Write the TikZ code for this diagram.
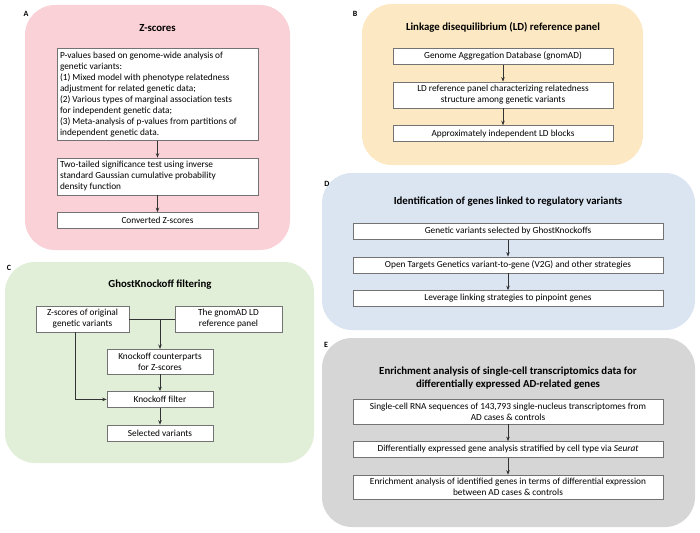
\documentclass[tikz,border=0pt]{standalone}
\usepackage{fontspec}
\setmainfont{Carlito}
\usetikzlibrary{positioning,arrows.meta}
\definecolor{zpink}{RGB}{249,209,214}
\definecolor{ldorange}{RGB}{252,232,194}
\definecolor{gkgreen}{RGB}{225,238,216}
\definecolor{genblue}{RGB}{219,229,242}
\definecolor{scgray}{RGB}{214,214,214}
\begin{document}
\begin{tikzpicture}[x=1pt,y=-1pt,
  node distance=17pt,
  every node/.style = {font=\fontsize{9.3}{11}\selectfont},
  stepbox/.style = {draw=black!55, fill=white, line width=0.6pt,
    inner xsep=3pt, inner ysep=3.5pt, minimum height=16pt, align=center},
  paneltitle/.style = {font=\bfseries\fontsize{10.8}{13}\selectfont, align=center},
  panellabel/.style = {font=\bfseries\fontsize{8}{10}\selectfont},
  panel/.style = {rounded corners=30pt},
  flow/.style = {-{Stealth[length=4.5pt,width=3.5pt]}, draw=black!80, line width=0.7pt}
  ]
  \useasboundingbox (0,0) rectangle (700,532);

  % panel backgrounds
  \fill[panel, zpink] (25,5) rectangle (290,250);
  \fill[panel, ldorange] (362,4) rectangle (643,165);
  \fill[panel, gkgreen] (5,262) rectangle (314,463);
  \fill[panel, genblue] (322,173) rectangle (695,330);
  \fill[panel, scgray] (322,338) rectangle (695,527);

  \node[panellabel] (labA) at (26,14) {A};
  \node[panellabel] (labB) at (355,14) {B};
  \node[panellabel] (labC) at (9,268) {C};
  \node[panellabel] (labD) at (327,184) {D};
  \node[panellabel] (labE) at (326,345) {E};

  % A: Z-scores
  \node[paneltitle] (titA) at (157.5,28) {Z-scores};
  \node[stepbox, text width=195pt, align=flush left, anchor=north] (zpval) at (157.5,48)
    {P-values based on genome-wide analysis of\\genetic variants:\\
     (1) Mixed model with phenotype relatedness\\adjustment for related genetic data;\\
     (2) Various types of marginal association tests\\for independent genetic data;\\
     (3) Meta-analysis of p-values from partitions of\\independent genetic data.};
  \node[stepbox, text width=195pt, align=flush left, below=of zpval] (ztest)
    {Two-tailed significance test using inverse\\standard Gaussian cumulative probability\\density function};
  \node[stepbox, minimum width=201pt, below=of ztest] (zconv) {Converted Z-scores};
  \draw[flow] (zpval) -- (ztest);
  \draw[flow] (ztest) -- (zconv);

  % B: LD reference panel
  \node[paneltitle] (titB) at (503,27) {Linkage disequilibrium (LD) reference panel};
  \node[stepbox, minimum width=220pt, anchor=north] (gnomad) at (503,48)
    {Genome Aggregation Database (gnomAD)};
  \node[stepbox, minimum width=220pt, below=of gnomad] (ldpanel)
    {LD reference panel characterizing relatedness\\structure among genetic variants};
  \node[stepbox, minimum width=220pt, below=of ldpanel] (ldblock)
    {Approximately independent LD blocks};
  \draw[flow] (gnomad) -- (ldpanel);
  \draw[flow] (ldpanel) -- (ldblock);

  % C: GhostKnockoff filtering
  \node[paneltitle] (titC) at (160,285) {GhostKnockoff filtering};
  \node[stepbox, minimum width=93pt] (zorig) at (82.5,319)
    {Z-scores of original\\genetic variants};
  \node[stepbox, minimum width=107pt] (gnomadld) at (228.5,319)
    {The gnomAD LD\\reference panel};
  \node[stepbox, minimum width=106pt, anchor=north] (kcount) at (160,349)
    {Knockoff counterparts\\for Z-scores};
  \node[stepbox, minimum width=106pt, below=of kcount] (kfilter) {Knockoff filter};
  \node[stepbox, minimum width=106pt, below=of kfilter] (selvar) {Selected variants};
  \draw[draw=black!80, line width=0.7pt] (zorig) -- (gnomadld);
  \draw[flow] (zorig -| kcount) -- (kcount);
  \draw[flow] ([xshift=-7.5pt]zorig.south) |- (kfilter.west);
  \draw[flow] (kcount) -- (kfilter);
  \draw[flow] (kfilter) -- (selvar);

  % D: genes linked to regulatory variants
  \node[paneltitle] (titD) at (508,202) {Identification of genes linked to regulatory variants};
  \node[stepbox, minimum width=310pt, anchor=north] (gkvar) at (508,223)
    {Genetic variants selected by GhostKnockoffs};
  \node[stepbox, minimum width=310pt, below=of gkvar] (vtog)
    {Open Targets Genetics variant-to-gene (V2G) and other strategies};
  \node[stepbox, minimum width=310pt, below=of vtog] (pinpoint)
    {Leverage linking strategies to pinpoint genes};
  \draw[flow] (gkvar) -- (vtog);
  \draw[flow] (vtog) -- (pinpoint);

  % E: single-cell enrichment
  \node[paneltitle] (titE) at (508,378)
    {Enrichment analysis of single-cell transcriptomics data for\\differentially expressed AD-related genes};
  \node[stepbox, minimum width=310pt, anchor=north] (scrna) at (508,399)
    {Single-cell RNA sequences of 143,793 single-nucleus transcriptomes from\\AD cases \& controls};
  \node[stepbox, minimum width=310pt, below=of scrna] (degene)
    {Differentially expressed gene analysis stratified by cell type via \textit{Seurat}};
  \node[stepbox, minimum width=310pt, below=of degene] (enrich)
    {Enrichment analysis of identified genes in terms of differential expression\\between AD cases \& controls};
  \draw[flow] (scrna) -- (degene);
  \draw[flow] (degene) -- (enrich);
\end{tikzpicture}
\end{document}
